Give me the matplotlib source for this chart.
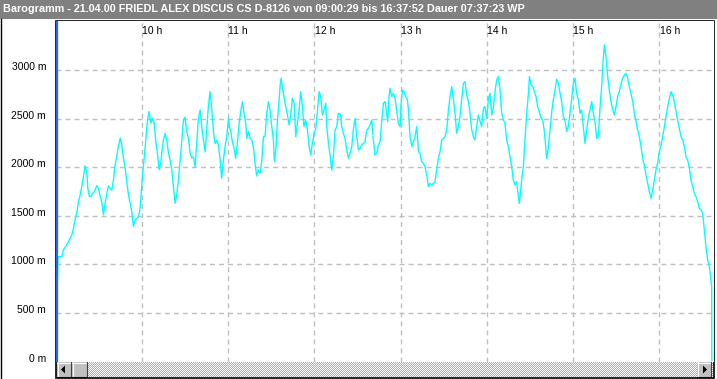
import matplotlib
matplotlib.use("Agg")
import numpy as np
import matplotlib.pyplot as plt
from matplotlib.patches import Rectangle, Polygon
from matplotlib.transforms import blended_transform_factory

W, H = 717, 379

TITLE = ("Barogramm - 21.04.00 FRIEDL ALEX DISCUS CS D-8126 "
         "von 09:00:29 bis 16:37:52 Dauer 07:37:23 WP")

# time in minutes after 09:00, altitude in m
t_part1 = [0.5, 1.4, 1.9, 2.2, 4.5, 5.7, 6.8, 9.2, 11.5, 12.6, 13.8, 14.9, 16.1, 17.3, 18.4,
           19.6, 20.7, 21.9, 22.6, 23.7, 24.9, 25.8, 27.2, 28.8, 30.0, 31.2, 32.3, 33.5, 34.6,
           35.8, 37.0, 38.1, 39.3, 40.4, 41.6, 42.7, 43.9, 45.1, 46.2, 47.4, 48.5, 49.7, 50.9,
           52.0, 53.2, 54.3, 55.5, 56.6, 57.8, 59.0, 59.7, 60.6, 61.7, 62.9, 64.1, 65.2, 66.4,
           67.5, 68.7, 69.9, 71.0, 72.2, 73.3, 74.0, 75.2, 76.3, 77.5, 78.7, 79.8, 81.0, 82.1,
           83.3, 84.5, 85.6, 86.8, 87.9, 89.1, 90.2, 91.4, 92.6, 93.7, 94.9, 96.0, 97.2, 98.4,
           99.5, 100.7, 101.8, 103.0, 104.2, 105.3, 106.5, 107.6, 108.8, 109.9, 111.1, 112.3,
           113.4, 114.6]
alt_part1 = [775, 780, 1070, 1080, 1080, 1150, 1175, 1235, 1305, 1370, 1460, 1525, 1645, 1715,
             1800, 1905, 2015, 1955, 1785, 1700, 1700, 1730, 1750, 1810, 1785, 1700, 1645, 1510,
             1630, 1730, 1810, 1785, 1765, 1870, 2025, 2110, 2215, 2300, 2230, 2095, 2005, 1850,
             1715, 1630, 1545, 1390, 1460, 1475, 1490, 1580, 1730, 1920, 2075, 2280, 2490, 2575,
             2455, 2505, 2455, 2265, 2145, 1975, 2040, 2145, 2280, 2350, 2280, 2145, 2075, 1975,
             1800, 1630, 1730, 1870, 2075, 2265, 2490, 2515, 2370, 2300, 2145, 2095, 2110, 2005,
             2265, 2505, 2590, 2420, 2280, 2160, 2400, 2640, 2780, 2590, 2370, 2245, 2280, 2230,
             2075]

t_part2 = [115.7, 116.9, 118.0, 119.2, 120.4, 121.0, 122.2, 123.1, 124.3, 125.4, 126.6, 127.8,
           128.9, 130.1, 131.2, 132.4, 133.1, 134.3, 135.4, 136.6, 137.7, 138.9, 140.0, 141.2,
           142.4, 143.5, 144.7, 145.8, 147.0, 148.2, 149.3, 150.5, 151.6, 152.3, 153.3, 154.4,
           155.6, 156.3, 157.0, 157.9, 159.0, 160.2, 161.4, 162.5, 163.7, 164.8, 166.0, 167.2,
           168.3, 169.5, 170.6, 171.8, 172.9, 174.1, 175.3, 176.4, 177.6, 178.7, 179.9, 181.1,
           182.2, 183.4, 184.5, 185.7, 186.8, 188.0, 188.7, 189.9, 191.0, 192.2, 193.3, 194.5,
           195.7, 196.8, 198.4, 199.1, 200.3, 201.4, 202.6, 203.8, 204.9, 206.1, 207.2, 208.4,
           209.6, 210.7, 211.9, 213.0, 214.2, 215.3, 216.5, 217.7, 218.8, 220.0, 221.1, 222.3,
           223.5, 224.6, 225.8, 226.9, 228.1, 229.3]
alt_part2 = [1887, 2076, 2213, 2316, 2505, 2419, 2350, 2265, 2196, 2093, 2247, 2453, 2574, 2677,
             2556, 2453, 2299, 2368, 2299, 2282, 2213, 2041, 1911, 1973, 1938, 2059, 2316, 2316,
             2556, 2677, 2591, 2419, 2282, 2059, 2179, 2471, 2694, 2848, 2917, 2814, 2728, 2625,
             2539, 2436, 2539, 2711, 2660, 2316, 2453, 2591, 2780, 2625, 2419, 2488, 2385, 2213,
             2127, 2247, 2350, 2402, 2574, 2780, 2728, 2539, 2591, 2660, 2419, 2247, 2127, 1973,
             2110, 2385, 2419, 2556, 2539, 2419, 2350, 2299, 2179, 2093, 2144, 2213, 2385, 2505,
             2316, 2179, 2196, 2230, 2247, 2265, 2385, 2402, 2436, 2488, 2282, 2127, 2144, 2230,
             2265, 2471, 2660, 2677]

t_part3 = [230.4, 231.1, 232.0, 232.7, 233.9, 235.0, 236.2, 237.3, 238.5, 239.7, 240.4, 241.3,
           242.4, 243.6, 244.8, 245.5, 246.6, 247.8, 248.9, 250.1, 251.2, 251.9, 252.4, 253.6,
           254.7, 255.9, 257.0, 258.2, 259.4, 260.5, 261.7, 262.8, 264.0, 265.1, 266.3, 267.5,
           268.6, 269.8, 270.9, 272.1, 273.2, 274.4, 275.6, 276.7, 277.9, 279.0, 280.2, 281.4,
           282.5, 283.7, 284.8, 286.0, 287.2, 288.3, 289.5, 290.6, 291.8, 292.9, 294.1, 295.3,
           296.4, 297.6, 298.7, 299.9, 301.1, 302.2, 303.4, 304.5, 305.7, 306.8, 308.0, 309.2,
           310.3, 311.5, 312.6, 313.8, 315.0, 316.1, 317.3, 318.4, 319.6, 320.7, 321.9, 322.6,
           323.5, 324.2, 325.4, 326.5, 327.7, 328.9, 329.6, 330.7, 331.9, 333.0, 334.2, 335.3,
           336.5, 337.7, 338.8, 340.0, 341.1]
alt_part3 = [2556, 2471, 2728, 2814, 2728, 2762, 2711, 2591, 2453, 2419, 2660, 2797, 2780, 2728,
             2694, 2591, 2316, 2213, 2265, 2316, 2419, 2299, 2162, 2144, 2059, 2041, 2007, 1921,
             1801, 1835, 1818, 1835, 1852, 1973, 2093, 2162, 2282, 2299, 2316, 2385, 2574, 2728,
             2831, 2711, 2556, 2350, 2419, 2539, 2694, 2865, 2883, 2745, 2677, 2556, 2385, 2316,
             2282, 2419, 2539, 2471, 2419, 2608, 2625, 2505, 2711, 2762, 2539, 2608, 2780, 2900,
             2934, 2797, 2556, 2488, 2453, 2282, 2213, 2110, 2007, 1870, 1818, 1852, 1698, 1629,
             1767, 1870, 2007, 2282, 2556, 2762, 2934, 2848, 2831, 2780, 2728, 2625, 2574, 2505,
             2488, 2368, 2179]

t_part4 = [341.6, 342.7, 343.9, 345.1, 346.2, 347.4, 348.5, 349.7, 350.9, 352.0, 353.2, 354.3,
           355.5, 356.6, 357.8, 359.0, 360.1, 361.3, 362.4, 363.6, 364.8, 365.9, 367.1, 368.2,
           369.4, 370.5, 371.7, 372.9, 374.0, 375.2, 376.3, 377.5, 378.7, 379.8, 381.0, 381.7,
           382.8, 384.0, 385.1, 386.3, 387.5, 388.6, 389.8, 390.9, 392.1, 393.3, 394.4, 395.6,
           396.7, 397.9, 399.0, 400.2, 401.4, 402.5, 403.7, 404.8, 406.0, 407.2, 408.3, 409.5,
           410.6, 411.8, 413.0, 414.1, 415.3, 416.4, 417.6, 418.7, 419.9, 421.1, 422.2, 423.4,
           424.5, 425.7, 426.9, 428.0, 429.2, 430.3, 431.5, 432.6, 433.8, 435.0, 436.1, 437.3,
           438.4, 439.6, 440.8, 441.9, 443.1, 444.2, 445.4, 446.6, 447.7, 448.9, 450.0, 451.2,
           452.3, 453.5, 454.7, 455.6, 456.3, 456.4]
alt_part4 = [2093, 2196, 2385, 2574, 2694, 2797, 2907, 2865, 2762, 2677, 2522, 2488, 2368, 2419,
             2556, 2711, 2865, 2917, 2762, 2694, 2556, 2591, 2419, 2247, 2385, 2505, 2591, 2677,
             2556, 2471, 2299, 2316, 2625, 2831, 3140, 3260, 3140, 2934, 2797, 2677, 2591, 2539,
             2625, 2728, 2780, 2865, 2917, 2951, 2968, 2917, 2831, 2762, 2677, 2556, 2471, 2385,
             2316, 2213, 2093, 2024, 1921, 1835, 1749, 1681, 1767, 1870, 1973, 2041, 2162, 2230,
             2316, 2419, 2522, 2625, 2711, 2780, 2745, 2677, 2574, 2488, 2402, 2316, 2282, 2213,
             2110, 2076, 1990, 1870, 1801, 1732, 1698, 1646, 1578, 1561, 1526, 1354, 1183, 1045,
             977, 857, 771, 10]

hour_ticks = [10, 11, 12, 13, 14, 15, 16]
alt_ticks = [0, 500, 1000, 1500, 2000, 2500, 3000]
t_start, t_end = 0.5, 457.9
alt_top = 3507

GRID = "#c0c0c0"
TRACE = "#00ffff"
FONT = "Liberation Sans"


def px_axes(fig, left, top, right, bottom):
    return fig.add_axes([left / W, 1 - bottom / H, (right - left) / W, (bottom - top) / H])


def bevel_button(ax, x, y, w, h):
    ax.add_patch(Rectangle((x, y), w, h, facecolor="#c0c0c0", edgecolor="none", zorder=3))
    ax.plot([x, x + w], [y + 0.5, y + 0.5], color="white", lw=0.8, zorder=4)
    ax.plot([x + 0.5, x + 0.5], [y, y + h], color="white", lw=0.8, zorder=4)
    ax.plot([x, x + w], [y + h - 0.5, y + h - 0.5], color="#404040", lw=0.8, zorder=4)
    ax.plot([x + w - 0.5, x + w - 0.5], [y, y + h], color="#404040", lw=0.8, zorder=4)


fig = plt.figure(figsize=(W / 100, H / 100), dpi=100)
fig.patch.set_facecolor("white")

bg = fig.add_axes([0, 0, 1, 1])
bg.set_xlim(0, W)
bg.set_ylim(H, 0)
bg.axis("off")

# title bar
bg.add_patch(Rectangle((0, 0), W, 18.5, facecolor="#808080", edgecolor="none"))
bg.text(3, 9.5, TITLE, color="white", fontsize=7.8, fontweight="bold", family=FONT,
        ha="left", va="center")
bg.plot([0.5, 0.5], [18.5, H], color="black", lw=1)

# main plot
ax = px_axes(fig, 56, 21, 714, 361.5)
ax.set_xlim(t_start, t_end)
ax.set_ylim(0, alt_top)
ax.set_facecolor("white")
for s in ax.spines.values():
    s.set_visible(False)
ax.set_xticks([])
ax.set_yticks([])

for a in alt_ticks[1:]:
    ax.axhline(a, color=GRID, lw=1, dashes=(3.6, 2.9), zorder=1)
for hr in hour_ticks:
    ax.axvline((hr - 9) * 60, color=GRID, lw=1, dashes=(3.6, 2.9), zorder=1)

ax.plot(t_part1 + t_part2 + t_part3 + t_part4,
        alt_part1 + alt_part2 + alt_part3 + alt_part4,
        color=TRACE, lw=1.0, zorder=3)
ax.axvline(t_start + 0.4, color="#2a62ff", lw=1.6, zorder=4)

top_tr = blended_transform_factory(ax.transData, ax.transAxes)
for hr in hour_ticks:
    ax.text((hr - 9) * 60 + 0.2, 1 - 9.5 / 340.5, f"{hr} h", transform=top_tr,
            fontsize=7.5, family=FONT, ha="left", va="center")

left_tr = blended_transform_factory(ax.transAxes, ax.transData)
for a in alt_ticks:
    ax.text(-10 / 658, a, f"{a} m", transform=left_tr, fontsize=7.5, family=FONT,
            ha="right", va="baseline", clip_on=False)

# scrollbar track with a dithered look
checker = (np.indices((16, 657)).sum(axis=0) % 2).astype(float)
bg.imshow(checker, cmap="gray", vmin=-2.0, vmax=1.0, extent=(56, 713, 377, 361),
          interpolation="nearest", aspect="auto", zorder=2)
bg.set_xlim(0, W)
bg.set_ylim(H, 0)
bevel_button(bg, 57, 362, 14, 15)
bevel_button(bg, 72, 362, 15, 15)
bevel_button(bg, 697, 362, 14, 15)
bg.add_patch(Polygon([(61, 369.5), (65, 365.5), (65, 373.5)], closed=True,
                     facecolor="black", edgecolor="none", zorder=5))
bg.add_patch(Polygon([(703, 365.5), (707, 369.5), (703, 373.5)], closed=True,
                     facecolor="black", edgecolor="none", zorder=5))

# frame around plot area
bg.add_patch(Rectangle((55.5, 20.5), 658, 357, facecolor="none", edgecolor="black",
                       lw=1.2, zorder=6))

fig.savefig("out.png", dpi=100)
